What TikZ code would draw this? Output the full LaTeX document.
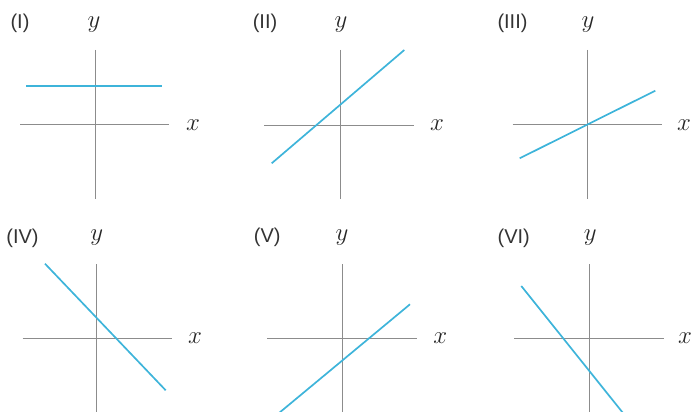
\documentclass[tikz,border=0pt]{standalone}
\usepackage{fontspec}
\newfontfamily\labfont{Liberation Sans}
\definecolor{linecyan}{RGB}{62,180,218}
\definecolor{axisgray}{RGB}{140,140,140}
\begin{document}
\begin{tikzpicture}[x=1pt,y=-1pt,
  axis/.style={draw=axisgray,line width=0.9pt},
  graphline/.style={draw=linecyan,line width=1.7pt},
  panellabel/.style={inner sep=0pt,text=black!80,font=\labfont\fontsize{20}{24}\selectfont},
  varlabel/.style={inner sep=0pt,text=black!85,font=\fontsize{25}{30}\selectfont}]
\useasboundingbox (0,0) rectangle (693,412);
\clip (0,0) rectangle (693,412);
% Panel I
\node[panellabel] (lI) at (20,23) {(I)};
\node[varlabel] (yI) at (94,25) {$y$};
\node[varlabel] (xI) at (193,125) {$x$};
\draw[axis] (95,50) -- (95,199);
\draw[axis] (20,124.3) -- (169,124.3);
\draw[graphline] (26,86) -- (162,86);
% Panel II
\node[panellabel] (lII) at (265,23) {(II)};
\node[varlabel] (yII) at (341,25) {$y$};
\node[varlabel] (xII) at (437,125) {$x$};
\draw[axis] (340,50) -- (340,199);
\draw[axis] (264,125) -- (414,125);
\draw[graphline] (271.7,163.3) -- (404.3,50);
% Panel III
\node[panellabel] (lIII) at (512.5,23) {(III)};
\node[varlabel] (yIII) at (588,25) {$y$};
\node[varlabel] (xIII) at (684,125) {$x$};
\draw[axis] (587.7,50) -- (587.7,199);
\draw[axis] (512.7,124.3) -- (662,124.3);
\draw[graphline] (519.7,158.3) -- (655.3,90.7);
% Panel IV
\node[panellabel] (lIV) at (22.5,238) {(IV)};
\node[varlabel] (yIV) at (96.7,237.3) {$y$};
\node[varlabel] (xIV) at (195,338.3) {$x$};
\draw[axis] (96.7,264.3) -- (96.7,412);
\draw[axis] (22.7,338.3) -- (172.3,338.3);
\draw[graphline] (45,263.7) -- (165.7,390.3);
% Panel V
\node[panellabel] (lV) at (267.3,237.5) {(V)};
\node[varlabel] (yV) at (342,238) {$y$};
\node[varlabel] (xV) at (440.3,338.3) {$x$};
\draw[axis] (342,264.3) -- (342,412);
\draw[axis] (267,338.3) -- (416.7,338.3);
\draw[graphline] (270.6,420) -- (410,304.3);
% Panel VI
\node[panellabel] (lVI) at (513.7,238) {(VI)};
\node[varlabel] (yVI) at (590.3,238) {$y$};
\node[varlabel] (xVI) at (685,338.3) {$x$};
\draw[axis] (589.3,264.3) -- (589.3,412);
\draw[axis] (514.3,338.3) -- (663.7,338.3);
\draw[graphline] (521.3,286) -- (628.6,420);
\end{tikzpicture}
\end{document}
